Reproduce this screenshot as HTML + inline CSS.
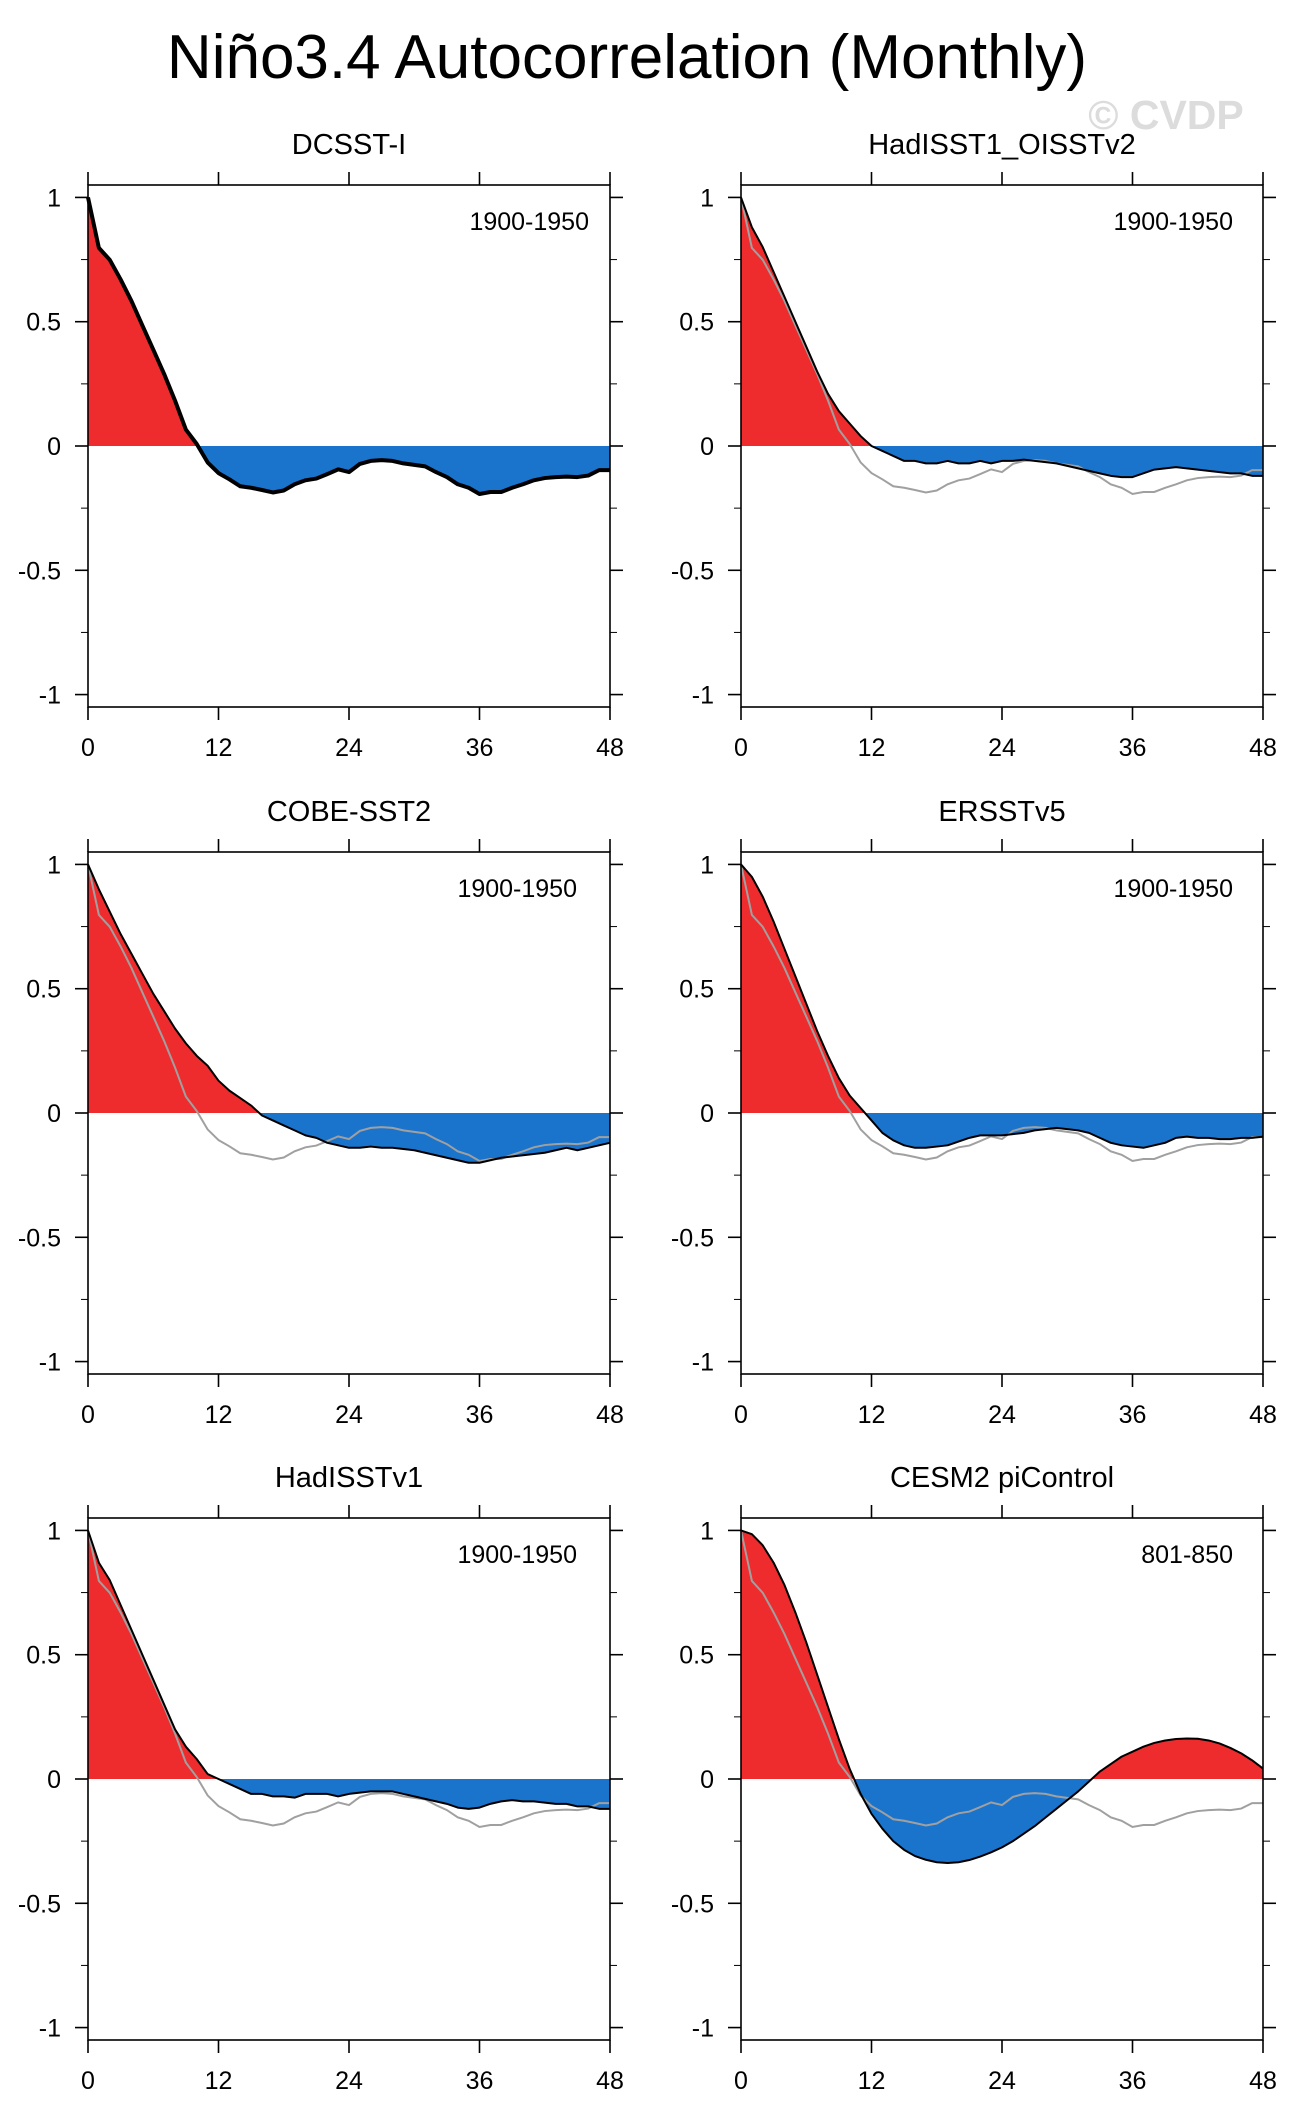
<!DOCTYPE html>
<html><head><meta charset="utf-8">
<style>
body{margin:0;background:#fff;}
svg{display:block;font-family:"Liberation Sans",Arial,sans-serif;}
</style></head>
<body>
<svg id="fig" width="1294" height="2121" viewBox="0 0 1294 2121" xmlns="http://www.w3.org/2000/svg">
<text x="627" y="78" font-size="62" text-anchor="middle" fill="#000">Niño3.4 Autocorrelation (Monthly)</text>
<text x="1166" y="129" font-size="41" font-weight="bold" text-anchor="middle" fill="#dcdcdc">© CVDP</text>
</svg>
<script>
const obsDCSST = [1.0,0.797,0.749,0.67,0.583,0.485,0.388,0.29,0.183,0.066,0.008,-0.066,-0.109,-0.134,-0.162,-0.168,-0.177,-0.187,-0.179,-0.154,-0.138,-0.131,-0.113,-0.094,-0.105,-0.072,-0.060,-0.057,-0.060,-0.070,-0.076,-0.082,-0.105,-0.125,-0.154,-0.168,-0.193,-0.185,-0.185,-0.168,-0.154,-0.138,-0.129,-0.125,-0.123,-0.125,-0.119,-0.097,-0.097];
const hadOISST = [1,0.88,0.8,0.7,0.6,0.5,0.4,0.3,0.21,0.14,0.09,0.04,0.0,-0.02,-0.04,-0.06,-0.06,-0.07,-0.07,-0.06,-0.07,-0.07,-0.06,-0.07,-0.06,-0.06,-0.055,-0.06,-0.065,-0.07,-0.08,-0.09,-0.1,-0.11,-0.12,-0.125,-0.125,-0.11,-0.095,-0.09,-0.085,-0.09,-0.095,-0.1,-0.105,-0.11,-0.11,-0.12,-0.12];
const cobe = [1,0.9,0.81,0.72,0.64,0.56,0.48,0.41,0.34,0.28,0.23,0.19,0.13,0.09,0.06,0.03,-0.01,-0.03,-0.05,-0.07,-0.09,-0.1,-0.12,-0.13,-0.14,-0.14,-0.135,-0.14,-0.14,-0.145,-0.15,-0.16,-0.17,-0.18,-0.19,-0.2,-0.2,-0.19,-0.18,-0.175,-0.17,-0.165,-0.16,-0.15,-0.14,-0.15,-0.14,-0.13,-0.12];
const ersst = [1,0.95,0.87,0.77,0.66,0.55,0.44,0.33,0.23,0.14,0.07,0.02,-0.03,-0.08,-0.11,-0.13,-0.14,-0.14,-0.135,-0.13,-0.115,-0.1,-0.09,-0.09,-0.09,-0.085,-0.08,-0.07,-0.065,-0.06,-0.065,-0.07,-0.08,-0.1,-0.12,-0.13,-0.135,-0.14,-0.13,-0.12,-0.1,-0.095,-0.1,-0.1,-0.105,-0.105,-0.1,-0.1,-0.095];
const hadv1 = [1,0.87,0.8,0.7,0.6,0.5,0.4,0.3,0.2,0.13,0.08,0.02,0.0,-0.02,-0.04,-0.06,-0.06,-0.07,-0.07,-0.075,-0.06,-0.06,-0.06,-0.07,-0.06,-0.055,-0.05,-0.05,-0.05,-0.06,-0.07,-0.08,-0.09,-0.1,-0.115,-0.12,-0.115,-0.1,-0.09,-0.085,-0.09,-0.09,-0.095,-0.1,-0.1,-0.11,-0.11,-0.12,-0.12];
const cesm2 = [1.0,0.985,0.94,0.87,0.78,0.67,0.55,0.42,0.29,0.16,0.04,-0.06,-0.14,-0.2,-0.25,-0.285,-0.31,-0.325,-0.335,-0.338,-0.335,-0.326,-0.312,-0.295,-0.275,-0.25,-0.22,-0.19,-0.155,-0.12,-0.085,-0.05,-0.01,0.03,0.06,0.09,0.11,0.13,0.145,0.155,0.161,0.163,0.162,0.155,0.143,0.125,0.103,0.075,0.042];
const panelTitles = ["DCSST-I","HadISST1_OISSTv2","COBE-SST2","ERSSTv5","HadISSTv1","CESM2 piControl"];
const panelPeriods = ["1900-1950","1900-1950","1900-1950","1900-1950","1900-1950","801-850"];
const xTicks = [0,12,24,36,48];
const yTicks = [1,0.5,0,-0.5,-1];
const yTickLabels = ["1","0.5","0","-0.5","-1"];
const yMinor = [0.75,0.25,-0.25,-0.75];

const series = [obsDCSST,hadOISST,cobe,ersst,hadv1,cesm2];
const NS = "http://www.w3.org/2000/svg";
const svg = document.getElementById('fig');
const colX = [88,741], rowY = [185,852,1518], W = 522, H = 522;
const periodInset = [21,30,33,30,33,30];

function mk(tag, attrs, parent){
  const e = document.createElementNS(NS, tag);
  for (const k in attrs) e.setAttribute(k, attrs[k]);
  (parent||svg).appendChild(e);
  return e;
}

series.forEach((vals, p) => {
  const x0 = colX[p%2], y0 = rowY[Math.floor(p/2)];
  const sx = m => x0 + m / 48 * W;
  const sy = v => y0 + (1.05 - v) / 2.1 * H;
  const g = mk('g', {});
  
  

  const t = mk('text', {x: x0 + W/2, y: y0 - 31, 'font-size': 29, 'text-anchor': 'middle'}, g);
  
  
  t.textContent = panelTitles[p];

  const cid = 'c' + p;
  const defs = mk('defs', {}, g);
  const cpA = mk('clipPath', {id: cid + 'a'}, defs);
  mk('rect', {x: x0, y: y0, width: W, height: sy(0) - y0}, cpA);
  const cpB = mk('clipPath', {id: cid + 'b'}, defs);
  mk('rect', {x: x0, y: sy(0), width: W, height: y0 + H - sy(0)}, cpB);

  let d = 'M' + sx(0) + ',' + sy(0);
  vals.forEach((v, i) => { d += ' L' + sx(i) + ',' + sy(v); });
  d += ' L' + sx(vals.length - 1) + ',' + sy(0) + ' Z';
  const pos = mk('path', {d: d, fill: '#ee2c2e', 'clip-path': 'url(#' + cid + 'a)'}, g);
  
  
  const neg = mk('path', {d: d, fill: '#1b74cb', 'clip-path': 'url(#' + cid + 'b)'}, g);
  
  

  if (p > 0) {
    const gp = mk('polyline', {points: obsDCSST.map((v, i) => sx(i) + ',' + sy(v)).join(' '), fill: 'none', stroke: '#a0a0a0', 'stroke-width': 2}, g);
    
    
  }
  const ln = mk('polyline', {points: vals.map((v, i) => sx(i) + ',' + sy(v)).join(' '), fill: 'none', stroke: '#000', 'stroke-width': p === 0 ? 4 : 2, 'stroke-linejoin': 'round'}, g);
  
  

  const fr = mk('rect', {x: x0, y: y0, width: W, height: H, fill: 'none', stroke: '#000', 'stroke-width': 1.6}, g);
  
  

  xTicks.forEach(m => {
    mk('line', {x1: sx(m), x2: sx(m), y1: y0, y2: y0 - 13, stroke: '#000', 'stroke-width': 1.6}, g);
    mk('line', {x1: sx(m), x2: sx(m), y1: y0 + H, y2: y0 + H + 13, stroke: '#000', 'stroke-width': 1.6}, g);
    const tl = mk('text', {x: sx(m), y: y0 + H + 49, 'font-size': 25, 'text-anchor': 'middle'}, g);
    
    
    tl.textContent = m;
  });
  yTicks.forEach((v, i) => {
    mk('line', {x1: x0, x2: x0 - 13, y1: sy(v), y2: sy(v), stroke: '#000', 'stroke-width': 1.6}, g);
    mk('line', {x1: x0 + W, x2: x0 + W + 13, y1: sy(v), y2: sy(v), stroke: '#000', 'stroke-width': 1.6}, g);
    const tl = mk('text', {x: x0 - 27, y: sy(v) + 9, 'font-size': 25, 'text-anchor': 'end'}, g);
    
    
    tl.textContent = yTickLabels[i];
  });
  yMinor.forEach(v => {
    mk('line', {x1: x0, x2: x0 - 7, y1: sy(v), y2: sy(v), stroke: '#000', 'stroke-width': 1}, g);
    mk('line', {x1: x0 + W, x2: x0 + W + 7, y1: sy(v), y2: sy(v), stroke: '#000', 'stroke-width': 1}, g);
  });
  const pt = mk('text', {x: x0 + W - periodInset[p], y: y0 + 45, 'font-size': 25, 'text-anchor': 'end'}, g);
  
  
  pt.textContent = panelPeriods[p];
});
</script>
</body></html>
